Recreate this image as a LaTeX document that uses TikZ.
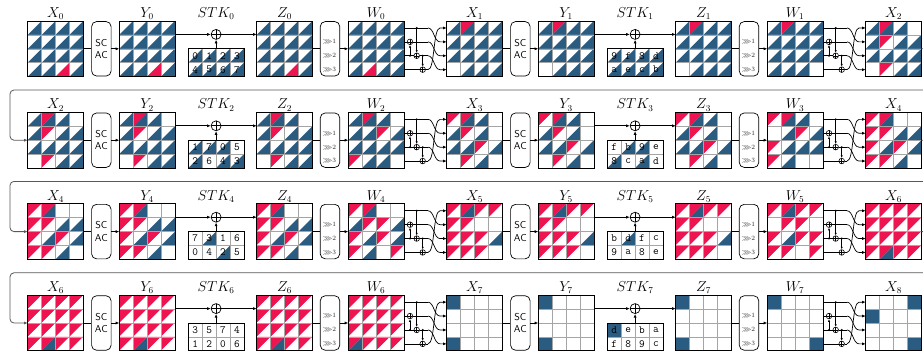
\documentclass[tikz,border=0pt]{standalone}
\usepackage{amssymb}
\usetikzlibrary{arrows.meta}
\definecolor{colb}{RGB}{42,91,128}
\definecolor{colr}{RGB}{237,20,80}
\definecolor{colw}{RGB}{255,255,255}
\definecolor{gline}{RGB}{165,165,165}
\def\splitst#1#2\relax{\def\ulc{#1}\def\lrc{#2}}
\def\splitstk#1#2#3\relax{\def\dgt{#1}\def\ulc{#2}\def\lrc{#3}}
\tikzset{
  gridnode/.style={minimum width=55.6pt,minimum height=55.6pt,inner sep=0pt,outer sep=0pt},
  stknode/.style={minimum width=55.6pt,minimum height=27.8pt,inner sep=0pt,outer sep=0pt},
  lbl/.style={anchor=south,inner sep=1.2pt,font=\fontsize{13.5}{15}\selectfont},
  gl/.style={draw=gline,line width=0.6pt},
  gb/.style={draw=black,line width=0.8pt},
  opbox/.style={draw,rounded corners=5pt,minimum width=19.5pt,minimum height=54.5pt,inner sep=0pt,line width=0.7pt},
  sctext/.style={font=\sffamily\fontsize{10}{12.3}\selectfont,align=center},
  srt/.style={font=\fontsize{6.5}{7}\selectfont,text=black!85,inner sep=0pt},
  dig/.style={font=\ttfamily\fontsize{11}{12}\selectfont,inner sep=0pt},
  conn/.style={line width=0.7pt},
  arr/.style={conn,-{Latex[length=3.6pt,width=3pt]}},
  arrs/.style={line width=0.6pt,-{Latex[length=2.6pt,width=2.2pt]}},
  xorbig/.style={circle,draw,line width=0.7pt,minimum size=10pt,inner sep=0pt,
    path picture={\draw[line width=0.7pt] (path picture bounding box.north)--(path picture bounding box.south) (path picture bounding box.west)--(path picture bounding box.east);}},
  xorsm/.style={circle,draw,line width=0.6pt,minimum size=5.6pt,inner sep=0pt,
    path picture={\draw[line width=0.5pt] (path picture bounding box.north)--(path picture bounding box.south) (path picture bounding box.west)--(path picture bounding box.east);}},
  feed/.style={line width=0.8pt,draw=black!65,rounded corners=4pt,-{Latex[length=3.6pt,width=3pt]}},
}
\newcommand\paintcell[2]{%
  \pgfmathsetmacro\xa{#1}\pgfmathsetmacro\ya{#2}%
  \pgfmathsetmacro\xb{\xa+13.9}\pgfmathsetmacro\yb{\ya+13.9}%
  \ifx\ulc\lrc
    \fill[col\ulc] (\xa,\ya) rectangle (\xb,\yb);
  \else
    \fill[col\ulc] (\xa,\ya) -- (\xb,\ya) -- (\xa,\yb) -- cycle;
    \fill[col\lrc] (\xb,\ya) -- (\xb,\yb) -- (\xa,\yb) -- cycle;
  \fi}
\newcommand\drawgrid[5]{%
  \node[gridnode] (#1) at (#2+27.8,#3+27.8) {};
  \node[lbl] at (#1.north) {#4};
  \foreach \st [count=\i from 0] in {#5}{%
    \pgfmathtruncatemacro\rr{div(\i,4)}%
    \pgfmathtruncatemacro\cc{mod(\i,4)}%
    \expandafter\splitst\st\relax
    \paintcell{#2+\cc*13.9}{#3+\rr*13.9}%
  }%
  \foreach \k in {1,2,3}{%
    \draw[gl] (#2+\k*13.9,#3) -- ++(0,55.6);
    \draw[gl] (#2,#3+\k*13.9) -- ++(55.6,0);
  }%
  \draw[gb] (#1.north west) rectangle (#1.south east);
}
\newcommand\drawstk[4]{%
  \node[stknode] (#1) at (#2+27.8,#3+13.9) {};
  \foreach \st [count=\i from 0] in {#4}{%
    \pgfmathtruncatemacro\rr{div(\i,4)}%
    \pgfmathtruncatemacro\cc{mod(\i,4)}%
    \expandafter\splitstk\st\relax
    \paintcell{#2+\cc*13.9}{#3+\rr*13.9}%
    \node[dig] at (\xa+6.95,\ya+6.95) {\dgt};
  }%
  \foreach \k in {1,2,3}{\draw[gl] (#2+\k*13.9,#3) -- ++(0,27.8);}%
  \draw[gl] (#2,#3+13.9) -- ++(55.6,0);
  \draw[gb] (#1.north west) rectangle (#1.south east);
}
\newcommand\rnd[4]{% #1 idx, #2 next X, #3 dx, #4 y0
  \node[opbox,sctext] (sc#1) at (#3+101.35,#4+27.8) {SC\\AC};
  \draw[conn] (X#1.east) -- (sc#1.west);
  \draw[arr] (sc#1.east) -- (Y#1.west);
  \node[xorbig] (xk#1) at (#3+216.1,#4+13.4) {};
  \node[lbl] (stkl#1) at (#3+216.1,#4) {$STK_{#1}$};
  \draw[arr] (Y#1.east |- xk#1) -- (xk#1.west);
  \draw[arr] (xk#1.east) -- (Z#1.west |- xk#1);
  \draw[arr] (STK#1.north -| xk#1) -- (xk#1.south);
  \node[opbox] (sr#1) at (#3+330,#4+27.8) {};
  \foreach \k in {1,2,3}{\node[srt] at (#3+329.3,#4+13.9*\k+6.95) {$\ggg$\k};}
  \draw[conn] (Z#1.east) -- (sr#1.west);
  \draw[arr] (sr#1.east) -- (W#1.west);
  \node[xorsm] (pb#1) at (#3+410,#4+20.85) {};
  \node[xorsm] (pc#1) at (#3+416.7,#4+34.75) {};
  \node[xorsm] (pd#1) at (#3+422.7,#4+48.65) {};
  \coordinate (ea#1) at (#3+428,#4+6.95);
  \coordinate (eb#1) at (#3+428,#4+20.85);
  \coordinate (ec#1) at (#3+428,#4+34.75);
  \coordinate (ed#1) at (#3+428,#4+48.65);
  \coordinate (ta#1) at (#3+440,#4+6.95);
  \coordinate (tb#1) at (#3+440,#4+20.85);
  \coordinate (tc#1) at (#3+440,#4+34.75);
  \coordinate (td#1) at (#3+440,#4+48.65);
  \draw[conn] (W#1.east |- ea#1) -- (ea#1);
  \draw[conn] (W#1.east |- pb#1) -- (pb#1.west) (pb#1.east) -- (eb#1);
  \draw[conn] (W#1.east |- pc#1) -- (pc#1.west) (pc#1.east) -- (ec#1);
  \draw[conn] (W#1.east |- pd#1) -- (pd#1.west) (pd#1.east) -- (ed#1);
  \draw[arr] (ea#1) .. controls +(6,0) and +(-6,0) .. (tb#1) -- (#2.west |- tb#1);
  \draw[arr] (eb#1) .. controls +(6,0) and +(-6,0) .. (tc#1) -- (#2.west |- tc#1);
  \draw[arr] (ec#1) .. controls +(6,0) and +(-6,0) .. (td#1) -- (#2.west |- td#1);
  \draw[arr] (ed#1) .. controls +(7,0) and +(-7,0) .. (ta#1) -- (#2.west |- ta#1);
  \fill (#3+410,#4+34.75) circle (1.1pt);
  \draw[arrs] (#3+410,#4+34.75) -- (pb#1.south);
  \fill (#3+416.7,#4+6.95) circle (1.1pt);
  \draw[arrs] (#3+416.7,#4+6.95) -- (pc#1.north);
  \fill (#3+422.7,#4+34.75) circle (1.1pt);
  \draw[arrs] (#3+422.7,#4+34.75) -- (pd#1.north);
}
\begin{document}
\begin{tikzpicture}[x=1pt,y=-1pt]
\useasboundingbox (0,0) rectangle (923,356);
\fill[white] (0,0) rectangle (923,356);
% ---------- row 1
\drawgrid{X0}{27.7}{21}{$X_0$}{wb,wb,wb,wb, wb,wb,wb,wb, wb,wb,wb,wb, wb,wb,wr,wb}
\drawgrid{Y0}{119.3}{21}{$Y_0$}{wb,wb,wb,wb, wb,wb,wb,wb, wb,wb,wb,wb, wb,wb,wr,wb}
\drawstk{STK0}{188.3}{48.8}{0wb,1wb,2wb,3wb,4wb,5wb,6wb,7wb}
\drawgrid{Z0}{256.7}{21}{$Z_0$}{wb,wb,wb,wb, wb,wb,wb,wb, wb,wb,wb,wb, wb,wb,wr,wb}
\drawgrid{W0}{348.3}{21}{$W_0$}{wb,wb,wb,wb, wb,wb,wb,wb, wb,wb,wb,wb, wb,wr,wb,wb}
\drawgrid{X1}{446.7}{21}{$X_1$}{wb,rb,wb,wb, wb,wb,wb,wb, wb,wb,wb,wb, ww,wb,wb,wb}
\drawgrid{Y1}{538.3}{21}{$Y_1$}{wb,rb,wb,wb, wb,wb,wb,wb, wb,wb,wb,wb, ww,wb,wb,wb}
\drawstk{STK1}{607.3}{48.8}{9wb,fwb,8wb,dwb,awb,ewb,cwb,bwb}
\drawgrid{Z1}{675.7}{21}{$Z_1$}{wb,rb,wb,wb, wb,wb,wb,wb, wb,wb,wb,wb, ww,wb,wb,wb}
\drawgrid{W1}{767.3}{21}{$W_1$}{wb,rb,wb,wb, wb,wb,wb,wb, wb,wb,wb,wb, wb,wb,wb,ww}
\drawgrid{X2a}{865.7}{21}{$X_2$}{wb,rb,wb,ww, wb,rw,wb,wb, wb,wb,wb,wb, ww,rw,wb,wb}
\rnd{0}{X1}{0}{21}
\rnd{1}{X2a}{419}{21}
% ---------- row 2
\drawgrid{X2}{27.7}{112.4}{$X_2$}{wb,rb,wb,ww, wb,rw,wb,wb, wb,wb,wb,wb, ww,rw,wb,wb}
\drawgrid{Y2}{119.3}{112.4}{$Y_2$}{wb,rb,wb,ww, wb,rw,wb,wb, wb,wb,wb,wb, ww,rw,wb,wb}
\drawstk{STK2}{188.3}{140.2}{1wb,7wb,0wb,5ww,2wb,6ww,4wb,3wb}
\drawgrid{Z2}{256.7}{112.4}{$Z_2$}{wb,rb,wb,ww, wb,rw,wb,wb, wb,wb,wb,wb, ww,rw,wb,wb}
\drawgrid{W2}{348.3}{112.4}{$W_2$}{wb,rb,wb,ww, wb,wb,rw,wb, wb,wb,wb,wb, rw,wb,wb,ww}
\drawgrid{X3}{446.7}{112.4}{$X_3$}{rw,rb,wb,ww, wb,rw,wb,ww, wb,wb,rw,wb, ww,rw,wb,ww}
\drawgrid{Y3}{538.3}{112.4}{$Y_3$}{rw,rb,wb,ww, wb,rw,wb,ww, wb,wb,rw,wb, ww,rw,wb,ww}
\drawstk{STK3}{607.3}{140.2}{fww,bwb,9wb,eww,8wb,cww,awb,dww}
\drawgrid{Z3}{675.7}{112.4}{$Z_3$}{rw,rb,wb,ww, wb,rw,wb,ww, wb,wb,rw,wb, ww,rw,wb,ww}
\drawgrid{W3}{767.3}{112.4}{$W_3$}{rw,rb,wb,ww, ww,wb,rw,wb, rw,wb,wb,wb, rw,wb,ww,ww}
\drawgrid{X4a}{865.7}{112.4}{$X_4$}{rw,rb,ww,ww, rw,rw,wb,wb, rw,wb,rw,wb, rw,rw,wb,ww}
\rnd{2}{X3}{0}{112.4}
\rnd{3}{X4a}{419}{112.4}
% ---------- row 3
\drawgrid{X4}{27.7}{203.8}{$X_4$}{rw,rb,ww,ww, rw,rw,wb,wb, rw,wb,rw,wb, rw,rw,wb,ww}
\drawgrid{Y4}{119.3}{203.8}{$Y_4$}{rw,rb,ww,ww, rw,rw,wb,wb, rw,wb,rw,wb, rw,rw,wb,ww}
\drawstk{STK4}{188.3}{231.6}{7ww,3wb,1ww,6ww,0ww,4ww,2wb,5ww}
\drawgrid{Z4}{256.7}{203.8}{$Z_4$}{rw,rb,ww,ww, rw,rw,wb,wb, rw,wb,rw,wb, rw,rw,wb,ww}
\drawgrid{W4}{348.3}{203.8}{$W_4$}{rw,rb,ww,ww, wb,rw,rw,wb, rw,wb,rw,wb, rw,wb,ww,rw}
\drawgrid{X5}{446.7}{203.8}{$X_5$}{rw,rb,rw,rw, rw,rw,ww,ww, rw,rw,rw,wb, rw,rw,rw,ww}
\drawgrid{Y5}{538.3}{203.8}{$Y_5$}{rw,rb,rw,rw, rw,rw,ww,ww, rw,rw,rw,wb, rw,rw,rw,ww}
\drawstk{STK5}{607.3}{231.6}{bww,dwb,fww,cww,9ww,aww,8ww,eww}
\drawgrid{Z5}{675.7}{203.8}{$Z_5$}{rw,rb,rw,rw, rw,rw,ww,ww, rw,rw,rw,wb, rw,rw,rw,ww}
\drawgrid{W5}{767.3}{203.8}{$W_5$}{rw,rb,rw,rw, ww,rw,rw,ww, rw,wb,rw,rw, rw,rw,ww,rw}
\drawgrid{X6a}{865.7}{203.8}{$X_6$}{rw,rw,rw,rw, rw,rw,rw,rw, rw,rw,rw,rw, rw,rb,rw,rw}
\rnd{4}{X5}{0}{203.8}
\rnd{5}{X6a}{419}{203.8}
% ---------- row 4
\drawgrid{X6}{27.7}{295.2}{$X_6$}{rw,rw,rw,rw, rw,rw,rw,rw, rw,rw,rw,rw, rw,rb,rw,rw}
\drawgrid{Y6}{119.3}{295.2}{$Y_6$}{rw,rw,rw,rw, rw,rw,rw,rw, rw,rw,rw,rw, rw,rb,rw,rw}
\drawstk{STK6}{188.3}{323}{3ww,5ww,7ww,4ww,1ww,2ww,0ww,6ww}
\drawgrid{Z6}{256.7}{295.2}{$Z_6$}{rw,rw,rw,rw, rw,rw,rw,rw, rw,rw,rw,rw, rw,rb,rw,rw}
\drawgrid{W6}{348.3}{295.2}{$W_6$}{rw,rw,rw,rw, rw,rw,rw,rw, rw,rw,rw,rw, rb,rw,rw,rw}
\drawgrid{X7}{446.7}{295.2}{$X_7$}{bb,ww,ww,ww, ww,ww,ww,ww, ww,ww,ww,ww, bb,ww,ww,ww}
\drawgrid{Y7}{538.3}{295.2}{$Y_7$}{bb,ww,ww,ww, ww,ww,ww,ww, ww,ww,ww,ww, bb,ww,ww,ww}
\drawstk{STK7}{607.3}{323}{dbb,eww,bww,aww,fww,8ww,9ww,cww}
\drawgrid{Z7}{675.7}{295.2}{$Z_7$}{bb,ww,ww,ww, ww,ww,ww,ww, ww,ww,ww,ww, bb,ww,ww,ww}
\drawgrid{W7}{767.3}{295.2}{$W_7$}{bb,ww,ww,ww, ww,ww,ww,ww, ww,ww,ww,ww, ww,ww,ww,bb}
\drawgrid{X8}{865.7}{295.2}{$X_8$}{ww,ww,ww,bb, bb,ww,ww,ww, ww,ww,ww,ww, ww,ww,ww,bb}
\rnd{6}{X7}{0}{295.2}
\rnd{7}{X8}{419}{295.2}
% ---------- feedback lines
\draw[feed] (X2a.east) -- ++(10,0) |- (10,90) |- (X2.west);
\draw[feed] (X4a.east) -- ++(10,0) |- (10,181.4) |- (X4.west);
\draw[feed] (X6a.east) -- ++(10,0) |- (10,272.8) |- (X6.west);
\end{tikzpicture}
\end{document}
